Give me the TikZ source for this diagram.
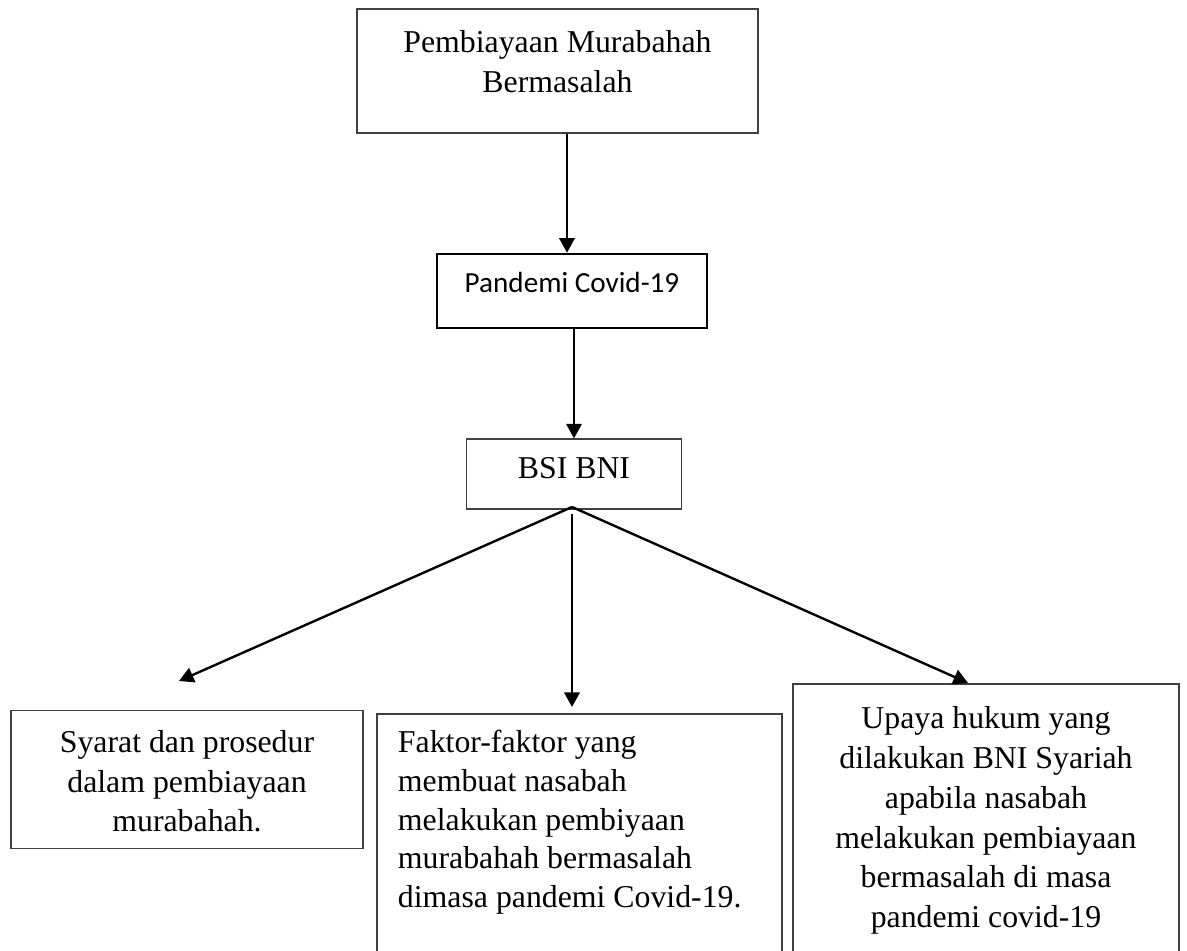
\documentclass[tikz,border=0pt]{standalone}
\usepackage{fontspec}
\setmainfont{Liberation Serif}
\newfontfamily\carlito{Carlito}
\usetikzlibrary{arrows.meta}

\begin{document}
\begin{tikzpicture}[x=0.3774pt, y=-0.3774pt, line width=0.75pt,
  box/.style={draw=black!75, line width=0.45pt, inner sep=0pt, anchor=base, align=flush center,
    font=\fontsize{12pt}{14.8pt}\selectfont},
  arr/.style={-{Triangle[length=5.5pt, width=5.8pt]}, line width=0.9pt}]
  \useasboundingbox (0,0) rectangle (1187,951);
  % 위쪽 상자
  \node[box, text width=151.3pt, text height=16.6pt, text depth=30.2pt] (pemb) at (557.5,53) {Pembiayaan Murabahah\\Bermasalah};
  \node[box, draw=black, line width=1pt, minimum width=101.9pt, text height=14.7pt, text depth=13.2pt,
    font=\carlito\fontsize{11pt}{13pt}\selectfont] (pandemi) at (572,293) {Pandemi Covid-19};
  \node[box, minimum width=81.1pt, text height=15.1pt, text depth=11.3pt] (bsi) at (574,479) {BSI BNI};
  % 아래쪽 상자
  \node[box, text width=132.8pt, text height=15.9pt, text depth=35.9pt] (syarat) at (187,753)
    {Syarat dan prosedur\\dalam pembiayaan\\murabahah.};
  \node[box, align=flush left, inner xsep=7.9pt, text width=137pt, text height=14.7pt, text depth=81.9pt,
    font=\fontsize{12pt}{14.55pt}\selectfont] (faktor) at (579.5,753)
    {Faktor-faktor yang\\membuat nasabah\\melakukan pembiyaan\\murabahah bermasalah\\dimasa pandemi Covid-19.};
  \node[box, text width=145.7pt, text height=17pt, text depth=90.9pt,
    font=\fontsize{12pt}{15pt}\selectfont] (upaya) at (986,729)
    {Upaya hukum yang\\dilakukan BNI Syariah\\apabila nasabah\\melakukan pembiayaan\\bermasalah di masa\\pandemi covid-19};
  % 화살표
  \coordinate (c1) at (567,0);
  \draw[arr] (pemb.south -| c1) -- (pandemi.north -| c1);
  \draw[arr] (pandemi.south -| bsi.north) -- (bsi.north);
  \coordinate (apex) at (572,507);
  \coordinate (midtop) at (572,514);
  \coordinate (tipL) at (179,681);
  \coordinate (tipM) at (572,707);
  \coordinate (tipR) at (968,683);
  \draw[arr] (apex) -- (tipL);
  \draw[arr] (midtop) -- (tipM);
  \draw[arr] (apex) -- (tipR);
\end{tikzpicture}
\end{document}
